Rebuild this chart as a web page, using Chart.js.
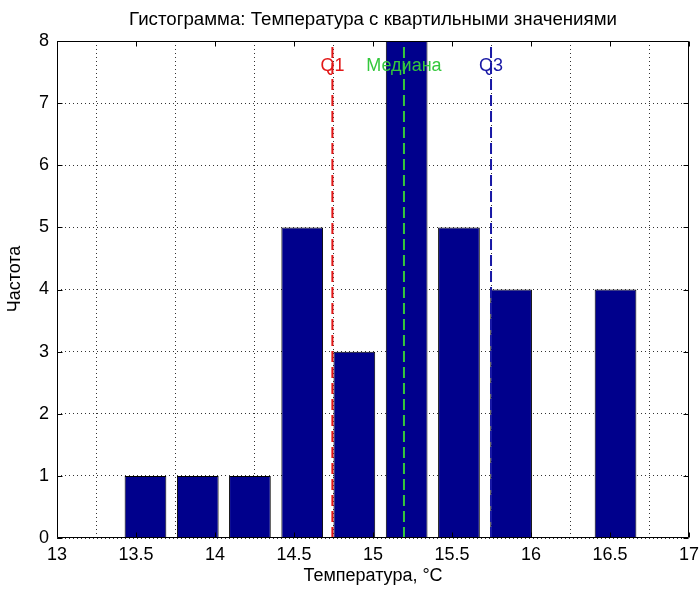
<!DOCTYPE html>
<html>
<head>
<meta charset="utf-8">
<script src="https://cdn.jsdelivr.net/npm/chart.js@4/dist/chart.umd.min.js"></script>
<style>
  html, body { margin: 0; padding: 0; background: #fff; }
  #c { display: block; }
</style>
</head>
<body>
<canvas id="c" width="700" height="590"></canvas>
<script>
// Histogram bins (centres) and their counts
const binCenters = [13.56, 13.891, 14.221, 14.552, 14.882, 15.213, 15.544, 15.874, 16.205, 16.535];
const counts     = [1, 1, 1, 5, 3, 8, 5, 4, 0, 4];

// Quartile markers
const quartileNames  = ['Q1', 'Медиана', 'Q3'];
const quartileValues = [14.743, 15.196, 15.747];
const quartileColors = ['rgb(226,24,24)', 'rgb(52,200,60)', 'rgb(24,24,165)'];
const quartileLabelY = 7.6;

// Axis ranges
const xRange = [13, 17];
const xStep = 0.5;
const yRange = [0, 8];
const yStep = 1;

const titleText  = 'Гистограмма: Температура с квартильными значениями';
const xTitleText = 'Температура, °C';
const yTitleText = 'Частота';

const FONT = '"Liberation Sans", Arial, sans-serif';

const datasets = [{
  type: 'bar',
  data: binCenters.map((x, i) => ({ x: x, y: counts[i] })),
  backgroundColor: 'rgb(0,0,140)',
  borderColor: '#000',
  borderWidth: 1,
  borderSkipped: 'start',
  categoryPercentage: 1.0,
  barPercentage: 0.8,
  order: 2
}];

quartileValues.forEach((q, i) => {
  datasets.push({
    type: 'line',
    data: [{ x: q, y: yRange[0] }, { x: q, y: yRange[1] }],
    borderColor: quartileColors[i],
    borderWidth: 2,
    borderDash: [11, 5],
    pointRadius: 0,
    fill: false,
    order: 1
  });
});

// Axis box, inward tick marks, titles and quartile captions
const decorations = {
  id: 'decorations',
  afterDatasetsDraw(chart) {
    const ctx = chart.ctx;
    const xs = chart.scales.x, ys = chart.scales.y;
    ctx.save();
    ctx.font = '18px ' + FONT;
    ctx.textAlign = 'center';
    ctx.textBaseline = 'middle';
    quartileValues.forEach((q, i) => {
      ctx.fillStyle = quartileColors[i];
      ctx.fillText(quartileNames[i], xs.getPixelForValue(q), ys.getPixelForValue(quartileLabelY));
    });
    ctx.restore();
  },
  afterDraw(chart) {
    const ctx = chart.ctx;
    const a = chart.chartArea;
    const xs = chart.scales.x, ys = chart.scales.y;
    ctx.save();
    ctx.strokeStyle = '#000';
    ctx.lineWidth = 1;
    const L = Math.round(a.left) + 0.5, R = Math.round(a.right) - 0.5;
    const T = Math.round(a.top) + 0.5, B = Math.round(a.bottom) - 0.5;
    ctx.beginPath();
    ctx.rect(L, T, R - L, B - T);
    const tl = 5;
    xs.ticks.forEach(t => {
      const px = Math.round(xs.getPixelForValue(t.value)) + 0.5;
      ctx.moveTo(px, B); ctx.lineTo(px, B - tl);
      ctx.moveTo(px, T); ctx.lineTo(px, T + tl);
    });
    ys.ticks.forEach(t => {
      const py = Math.round(ys.getPixelForValue(t.value)) + 0.5;
      ctx.moveTo(L, py); ctx.lineTo(L + tl, py);
      ctx.moveTo(R, py); ctx.lineTo(R - tl, py);
    });
    ctx.stroke();

    ctx.fillStyle = '#000';
    ctx.textAlign = 'center';
    ctx.textBaseline = 'middle';
    ctx.font = '18.7px ' + FONT;
    ctx.fillText(titleText, (a.left + a.right) / 2, 20);
    ctx.font = '18px ' + FONT;
    ctx.fillText(xTitleText, (a.left + a.right) / 2, 576);
    ctx.translate(15, 279);
    ctx.rotate(-Math.PI / 2);
    ctx.fillText(yTitleText, 0, 0);
    ctx.restore();
  }
};

new Chart(document.getElementById('c'), {
  data: { datasets: datasets },
  options: {
    responsive: false,
    animation: false,
    layout: { padding: { top: 41, right: 11, left: 0, bottom: 0 } },
    plugins: {
      legend: { display: false },
      tooltip: { enabled: false },
      title: { display: false }
    },
    scales: {
      x: {
        type: 'linear',
        min: xRange[0],
        max: xRange[1],
        offset: false,
        ticks: {
          stepSize: xStep,
          color: '#000',
          font: { family: FONT, size: 18 },
          padding: 6,
          maxRotation: 0,
          autoSkip: false,
          callback: v => String(v)
        },
        grid: { color: '#333', lineWidth: 1, drawTicks: false },
        border: { display: false, dash: [1, 3] },
        afterFit(s) { s.height = 52; s.paddingLeft = 0; s.paddingRight = 0; }
      },
      y: {
        min: yRange[0],
        max: yRange[1],
        ticks: {
          stepSize: yStep,
          color: '#000',
          font: { family: FONT, size: 18 },
          padding: 8
        },
        grid: { color: '#333', lineWidth: 1, drawTicks: false },
        border: { display: false, dash: [1, 3] },
        afterFit(s) { s.width = 57; s.paddingTop = 0; s.paddingBottom = 0; }
      }
    }
  },
  plugins: [decorations]
});
</script>
</body>
</html>
